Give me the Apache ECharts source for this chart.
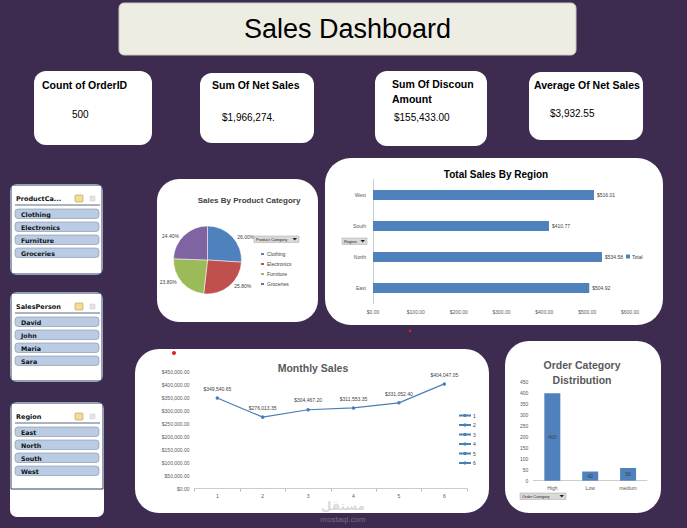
<!DOCTYPE html>
<html>
<head>
<meta charset="utf-8">
<script src="https://cdn.jsdelivr.net/npm/echarts@6/dist/echarts.min.js"></script>
<style>
  html, body { margin: 0; padding: 0; background: #3e2c50; }
  #main { width: 687px; height: 528px; }
</style>
</head>
<body>
<div id="main"></div>
<script>
// data
const kpiTitles = ['Count of OrderID', 'Sum Of Net Sales', 'Sum Of Discoun\nAmount', 'Average Of Net Sales'];
const kpiValues = ['500', '$1,966,274.', '$155,433.00', '$3,932.55'];

const productCategories = ['Clothing', 'Electronics', 'Furniture', 'Groceries'];
const productShares = [26.00, 25.80, 23.80, 24.40];

const regions = ['East', 'North', 'South', 'West'];
const regionSales = [504.92, 534.58, 410.77, 516.01];

const months = ['1', '2', '3', '4', '5', '6'];
const monthlySales = [349540.65, 276013.35, 304467.20, 311553.35, 331052.40, 404047.05];

const orderCategories = ['High', 'Low', 'medium'];
const orderCounts = [400, 42, 58];

const salesPersons = ['David', 'John', 'Maria', 'Sara'];

const FONT = 'Liberation Sans';
const BLUE = '#4f81bd';
const pieColors = ['#4f81bd', '#c0504d', '#9bbb59', '#8064a2'];

function money(v) {
  return '$' + v.toLocaleString('en-US', { minimumFractionDigits: 2, maximumFractionDigits: 2 });
}

function txt(x, y, s, size, style, z) {
  return {
    type: 'text', x: x, y: y, z: z || 50,
    style: Object.assign({
      text: s, fontSize: size, fontFamily: FONT, fill: '#000',
      align: 'left', verticalAlign: 'middle'
    }, style || {})
  };
}

function panel(x, y, w, h, r, extra) {
  return {
    type: 'rect', z: -1,
    shape: { x: x, y: y, width: w, height: h, r: r },
    style: Object.assign({ fill: '#fff' }, extra || {})
  };
}

function dropdown(x, y, w, label) {
  return [
    { type: 'rect', z: 60, shape: { x: x, y: y, width: w, height: 6.5 },
      style: { fill: '#d9d9d9', stroke: '#a6a6a6', lineWidth: 0.5 } },
    txt(x + 2, y + 3.4, label, 4, { fill: '#222' }, 62),
    { type: 'polygon', z: 61,
      shape: { points: [[x + w - 6.5, y + 2], [x + w - 2, y + 2], [x + w - 4.25, y + 4.6]] },
      style: { fill: '#222' } }
  ];
}

function slicer(x, y, w, h, frameH, title, items) {
  const els = [];
  els.push(panel(x, y, w, h, 7));
  els.push({ type: 'rect', z: 1, shape: { x: x + 1, y: y + 1, width: w - 2, height: frameH - 2 },
    style: { fill: 'none', stroke: '#2c4368', lineWidth: 1 } });
  els.push(txt(x + 6, y + 15, title, 6.5, { fontFamily: 'DejaVu Sans', fontWeight: 'bold', fill: '#111' }));
  // header icons
  els.push({ type: 'rect', z: 5, shape: { x: x + 65, y: y + 11, width: 8, height: 7, r: 1 },
    style: { fill: '#f2dc97', stroke: '#b59a4a', lineWidth: 0.6 } });
  els.push({ type: 'rect', z: 5, shape: { x: x + 80, y: y + 12, width: 5, height: 5 },
    style: { fill: '#e3e3e3', stroke: '#c8c8c8', lineWidth: 0.5 } });
  els.push({ type: 'line', z: 5, shape: { x1: x + 5, y1: y + 21, x2: x + 90, y2: y + 21 },
    style: { stroke: '#2c4368', lineWidth: 0.8 } });
  items.forEach(function (name, i) {
    const iy = y + 25 + i * 13;
    els.push({ type: 'rect', z: 5, shape: { x: x + 5, y: iy, width: 84, height: 9.5, r: 3 },
      style: { fill: '#b9cce4', stroke: '#7f8fa6', lineWidth: 0.6 } });
    els.push(txt(x + 11, iy + 5, name, 6.3, { fontFamily: 'DejaVu Sans', fontWeight: 'bold', fill: '#111' }));
  });
  return els;
}

const cardBoxes = [[34, 71, 118, 74], [200, 73, 114, 70], [375, 71, 112, 75], [529, 72, 114, 68]];
const cardTitlePos = [[42, 85], [212, 85], [392, 84], [534, 85]];
const cardValuePos = [[72, 114], [222, 117], [394, 117], [550, 113]];

const graphics = [];
// title
graphics.push(panel(119, 3, 457, 52, 5, { fill: '#eeede3', stroke: '#c9c9c0', lineWidth: 1 }));
graphics.push(txt(347.5, 29, 'Sales Dashboard', 27, { align: 'center' }));
// kpi cards
kpiTitles.forEach(function (t, i) {
  const b = cardBoxes[i];
  const multi = t.indexOf('\n') > -1;
  graphics.push(panel(b[0], b[1], b[2], b[3], 12));
  graphics.push(txt(cardTitlePos[i][0], cardTitlePos[i][1] - (multi ? 7.5 : 0), t, 10.5,
    { fontWeight: 'bold', lineHeight: 15, verticalAlign: multi ? 'top' : 'middle' }));
  graphics.push(txt(cardValuePos[i][0], cardValuePos[i][1], kpiValues[i], 10));
});
// slicers
slicer(10, 184, 93, 91, 91, 'ProductCa...', productCategories).forEach(e => graphics.push(e));
slicer(10, 292, 93, 90, 90, 'SalesPerson', salesPersons).forEach(e => graphics.push(e));
slicer(10, 402, 94, 115, 88, 'Region', regions).forEach(e => graphics.push(e));
// chart panels
graphics.push(panel(157, 179, 161, 143, 22));
graphics.push(panel(325, 158, 338, 167, 26));
graphics.push(panel(135, 349, 354, 164, 24));
graphics.push(panel(505, 341, 156, 172, 24));
// chart titles
graphics.push(txt(249, 200, 'Sales By Product Category', 8, { align: 'center', fontWeight: 'bold', fill: '#404040' }));
graphics.push(txt(496, 174, 'Total Sales By Region', 10, { align: 'center', fontWeight: 'bold', fill: '#000' }));
graphics.push(txt(313, 368, 'Monthly Sales', 10.5, { align: 'center', fontWeight: 'bold', fill: '#595959' }));
graphics.push(txt(582, 357, 'Order Category\nDistribution', 10.5,
  { align: 'center', fontWeight: 'bold', fill: '#595959', lineHeight: 15, verticalAlign: 'top' }));
// dropdown buttons
dropdown(254, 236, 45, 'Product Category').forEach(e => graphics.push(e));
dropdown(342, 238, 25, 'Region').forEach(e => graphics.push(e));
dropdown(520, 493, 46, 'Order Category').forEach(e => graphics.push(e));
// stray red dots
graphics.push({ type: 'circle', z: 60, shape: { cx: 174, cy: 353, r: 2 }, style: { fill: '#e0201b' } });
graphics.push({ type: 'circle', z: 60, shape: { cx: 410, cy: 331, r: 1.3 }, style: { fill: '#e0201b' } });
// watermark
graphics.push(txt(343, 506, 'مستقل', 12, { align: 'center', fill: 'rgba(170,170,170,0.45)', fontFamily: 'DejaVu Sans', fontWeight: 'bold' }));
graphics.push(txt(343, 519, 'mostaql.com', 8, { align: 'center', fill: 'rgba(170,170,170,0.55)' }));

const axisText = { fontSize: 5, color: '#595959', fontFamily: FONT };

const option = {
  backgroundColor: '#3e2c50',
  animation: false,
  textStyle: { fontFamily: FONT },
  graphic: { elements: graphics },
  legend: [
    { data: productCategories, orient: 'vertical', left: 254, top: 246, icon: 'rect',
      itemWidth: 5, itemHeight: 4, itemGap: 4, textStyle: { fontSize: 5, color: '#404040', padding: [0, 0, 0, -3] } },
    { data: ['Total'], left: 621, top: 249, icon: 'rect',
      itemWidth: 4, itemHeight: 4, textStyle: { fontSize: 5, color: '#404040', padding: [0, 0, 0, -3] } },
    { data: months, orient: 'vertical', left: 453, top: 408, itemWidth: 12, itemHeight: 4, itemGap: 4.5,
      textStyle: { fontSize: 5, color: '#404040', padding: [0, 0, 0, -3] } }
  ],
  grid: [
    { left: 373, right: 57, top: 179.5, bottom: 224.5 },
    { left: 194.6, right: 220, top: 372, bottom: 39.3 },
    { left: 533.4, right: 40, top: 382.3, bottom: 47.3 }
  ],
  xAxis: [
    { type: 'value', gridIndex: 0, min: 0, max: 600, interval: 100,
      axisLine: { show: false }, axisTick: { show: false }, splitLine: { show: false },
      axisLabel: Object.assign({ margin: 6, formatter: v => '$' + v.toFixed(2) }, axisText) },
    { type: 'category', gridIndex: 1, data: months,
      axisLine: { lineStyle: { color: '#bfbfbf', width: 0.8 } },
      axisTick: { show: true, length: 3, lineStyle: { color: '#bfbfbf' } },
      axisLabel: Object.assign({ margin: 5 }, axisText) },
    { type: 'category', gridIndex: 2, data: orderCategories,
      axisLine: { lineStyle: { color: '#bfbfbf', width: 0.8 } },
      axisTick: { show: false },
      axisLabel: Object.assign({ margin: 5 }, axisText) }
  ],
  yAxis: [
    { type: 'category', gridIndex: 0, data: regions,
      axisLine: { lineStyle: { color: '#bfbfbf', width: 0.8 } }, axisTick: { show: false },
      axisLabel: Object.assign({ margin: 7 }, axisText) },
    { type: 'value', gridIndex: 1, min: 0, max: 450000, interval: 50000,
      axisLine: { show: false }, axisTick: { show: false }, splitLine: { show: false },
      axisLabel: Object.assign({ margin: 5, formatter: v => money(v) }, axisText) },
    { type: 'value', gridIndex: 2, min: 0, max: 450, interval: 50,
      axisLine: { show: false }, axisTick: { show: false }, splitLine: { show: false },
      axisLabel: Object.assign({ margin: 5 }, axisText) }
  ],
  series: [
    { type: 'pie', name: 'Sales By Product Category', center: [207.5, 260], radius: 34,
      startAngle: 90, clockwise: true,
      data: productCategories.map((n, i) => ({ name: n, value: productShares[i], itemStyle: { color: pieColors[i] } })),
      itemStyle: { borderColor: '#fff', borderWidth: 0.5 },
      label: { position: 'outside', fontSize: 5, color: '#404040', formatter: p => p.value.toFixed(2) + '%' },
      labelLine: { show: false, length: 0, length2: 0 } },
    { type: 'bar', name: 'Total', xAxisIndex: 0, yAxisIndex: 0, data: regionSales,
      barWidth: 10, itemStyle: { color: BLUE },
      label: { show: true, position: 'right', distance: 3, fontSize: 5, color: '#404040', formatter: p => money(p.value) } },
    { type: 'line', name: 'Monthly Sales', xAxisIndex: 1, yAxisIndex: 1, data: monthlySales,
      symbol: 'circle', symbolSize: 3.5, lineStyle: { color: '#4a7ebb', width: 1.2 }, itemStyle: { color: '#4a7ebb' },
      label: { show: true, position: 'top', distance: 5, fontSize: 5, color: '#404040', formatter: p => money(p.value) } }
  ].concat(months.map(m => ({
    type: 'line', name: m, xAxisIndex: 1, yAxisIndex: 1, data: [],
    symbol: 'circle', symbolSize: 3, lineStyle: { color: '#4a7ebb', width: 1.2 }, itemStyle: { color: '#4a7ebb' }
  }))).concat([
    { type: 'bar', name: 'Order Category', xAxisIndex: 2, yAxisIndex: 2, data: orderCounts,
      barWidth: 16, itemStyle: { color: BLUE },
      label: { show: true, position: 'inside', fontSize: 5, color: '#404040' } }
  ])
};

const chart = echarts.init(document.getElementById('main'), null, { renderer: 'svg' });
chart.setOption(option);
</script>
</body>
</html>
